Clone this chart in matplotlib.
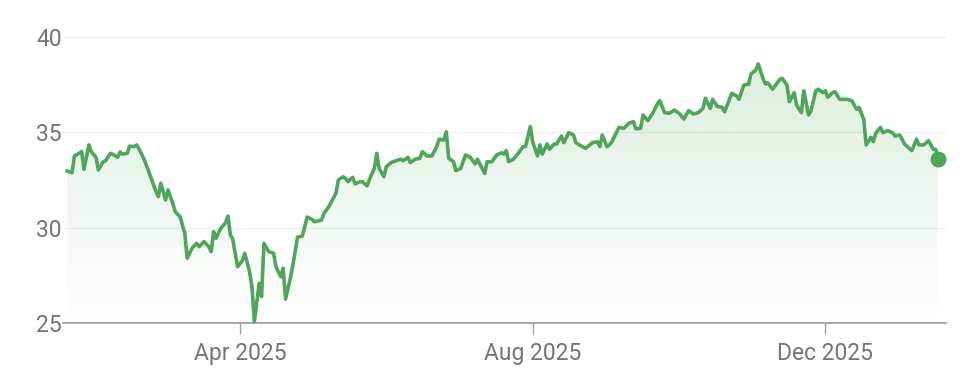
import matplotlib
matplotlib.use("Agg")
import matplotlib.pyplot as plt
import matplotlib.dates as mdates
import numpy as np
import pandas as pd

# price history
dates = [
    "2025-01-19", "2025-01-21", "2025-01-22", "2025-01-24", "2025-01-25", "2025-01-26",
    "2025-01-28", "2025-01-29", "2025-01-31", "2025-02-01", "2025-02-03", "2025-02-04",
    "2025-02-06", "2025-02-07", "2025-02-09", "2025-02-10", "2025-02-11", "2025-02-13",
    "2025-02-14", "2025-02-16", "2025-02-17", "2025-02-19", "2025-02-20", "2025-02-22",
    "2025-02-25", "2025-02-26", "2025-02-27", "2025-03-01", "2025-03-02", "2025-03-04",
    "2025-03-05", "2025-03-07", "2025-03-09", "2025-03-10", "2025-03-12", "2025-03-14",
    "2025-03-15", "2025-03-17", "2025-03-19", "2025-03-20", "2025-03-21", "2025-03-22",
    "2025-03-24", "2025-03-26", "2025-03-27", "2025-03-28", "2025-03-29", "2025-03-31",
    "2025-04-02", "2025-04-03", "2025-04-05", "2025-04-06", "2025-04-07", "2025-04-09",
    "2025-04-10", "2025-04-11", "2025-04-13", "2025-04-15", "2025-04-16", "2025-04-18",
    "2025-04-19", "2025-04-20", "2025-04-22", "2025-04-23", "2025-04-25", "2025-04-27",
    "2025-04-29", "2025-05-01", "2025-05-02", "2025-05-05", "2025-05-06", "2025-05-08",
    "2025-05-11", "2025-05-12", "2025-05-14", "2025-05-15", "2025-05-16", "2025-05-18",
    "2025-05-19", "2025-05-21", "2025-05-22", "2025-05-24", "2025-05-25", "2025-05-27",
    "2025-05-28", "2025-05-29", "2025-05-31", "2025-06-01", "2025-06-03", "2025-06-05",
    "2025-06-07", "2025-06-08", "2025-06-10", "2025-06-11", "2025-06-13", "2025-06-15",
    "2025-06-16", "2025-06-18", "2025-06-20", "2025-06-22", "2025-06-23", "2025-06-25",
    "2025-06-26", "2025-06-27", "2025-06-29", "2025-06-30", "2025-07-02", "2025-07-04",
    "2025-07-06", "2025-07-08", "2025-07-09", "2025-07-12", "2025-07-13", "2025-07-15",
    "2025-07-17", "2025-07-19", "2025-07-20", "2025-07-21", "2025-07-22", "2025-07-24",
    "2025-07-26", "2025-07-28", "2025-07-29", "2025-07-31", "2025-08-01", "2025-08-03",
    "2025-08-04", "2025-08-05", "2025-08-07", "2025-08-08", "2025-08-10", "2025-08-11",
    "2025-08-13", "2025-08-14", "2025-08-16", "2025-08-18", "2025-08-19", "2025-08-21",
    "2025-08-23", "2025-08-26", "2025-08-28", "2025-08-29", "2025-08-30", "2025-09-01",
    "2025-09-02", "2025-09-03", "2025-09-06", "2025-09-08", "2025-09-10", "2025-09-12",
    "2025-09-13", "2025-09-15", "2025-09-16", "2025-09-18", "2025-09-20", "2025-09-22",
    "2025-09-23", "2025-09-25", "2025-09-27", "2025-09-29", "2025-10-01", "2025-10-03",
    "2025-10-05", "2025-10-07", "2025-10-09", "2025-10-11", "2025-10-12", "2025-10-14",
    "2025-10-15", "2025-10-17", "2025-10-19", "2025-10-20", "2025-10-23", "2025-10-25",
    "2025-10-26", "2025-10-28", "2025-10-30", "2025-10-31", "2025-11-02", "2025-11-03",
    "2025-11-05", "2025-11-06", "2025-11-07", "2025-11-09", "2025-11-12", "2025-11-13",
    "2025-11-15", "2025-11-16", "2025-11-18", "2025-11-19", "2025-11-21", "2025-11-22",
    "2025-11-24", "2025-11-25", "2025-11-27", "2025-11-28", "2025-11-30", "2025-12-01",
    "2025-12-02", "2025-12-04", "2025-12-05", "2025-12-07", "2025-12-10", "2025-12-12",
    "2025-12-14", "2025-12-15", "2025-12-17", "2025-12-18", "2025-12-20", "2025-12-21",
    "2025-12-22", "2025-12-24", "2025-12-25", "2025-12-27", "2025-12-29", "2025-12-30",
    "2026-01-01", "2026-01-03", "2026-01-06", "2026-01-08", "2026-01-09", "2026-01-11",
    "2026-01-13", "2026-01-15", "2026-01-16", "2026-01-17",
]
prices = [
    32.97, 32.88, 33.76, 33.90, 33.99, 33.06,
    34.34, 33.99, 33.69, 33.03, 33.46, 33.51,
    33.90, 33.85, 33.69, 33.97, 33.86, 33.90,
    34.28, 34.25, 34.34, 33.86, 33.59, 32.94,
    31.89, 31.63, 32.33, 31.45, 31.98, 31.28,
    30.84, 30.58, 29.71, 28.40, 28.92, 29.18,
    29.00, 29.27, 29.00, 28.74, 29.79, 29.44,
    29.97, 30.26, 30.61, 29.62, 29.39, 27.95,
    28.27, 28.66, 27.69, 26.91, 25.07, 27.08,
    26.38, 29.18, 28.74, 28.66, 27.95, 27.43,
    27.87, 26.25, 27.35, 27.99, 29.50, 29.56,
    30.55, 30.44, 30.31, 30.40, 30.75, 31.10,
    31.80, 32.50, 32.67, 32.59, 32.41, 32.64,
    32.29, 32.41, 32.41, 32.19, 32.54, 33.11,
    33.90, 33.11, 32.67, 33.20, 33.41, 33.51,
    33.59, 33.51, 33.69, 33.41, 33.59, 33.64,
    33.99, 33.76, 33.76, 34.25, 34.64, 34.60,
    35.03, 33.64, 33.46, 32.99, 33.11, 33.81,
    33.69, 33.34, 33.59, 32.85, 33.46, 33.46,
    33.81, 33.93, 33.86, 34.04, 33.46, 33.59,
    33.90, 34.25, 34.25, 35.30, 34.51, 33.76,
    34.34, 33.86, 34.39, 34.11, 34.39, 34.39,
    34.81, 34.46, 34.98, 34.86, 34.46, 34.30,
    34.16, 34.46, 34.51, 34.25, 34.86, 34.25,
    34.34, 34.51, 35.26, 35.21, 35.47, 35.56,
    35.18, 35.21, 35.91, 35.61, 36.00, 36.49,
    36.66, 36.03, 36.00, 36.17, 36.00, 35.70,
    36.14, 35.96, 36.03, 36.26, 36.79, 36.26,
    36.73, 36.35, 36.31, 36.08, 37.05, 36.91,
    36.73, 37.48, 37.52, 38.06, 38.27, 38.58,
    37.83, 37.54, 37.60, 37.26, 37.78, 37.83,
    37.48, 36.61, 37.08, 36.43, 36.03, 37.18,
    35.91, 36.12, 37.18, 37.26, 37.08, 37.18,
    36.84, 37.08, 37.13, 36.73, 36.73, 36.66,
    36.21, 36.31, 35.68, 34.34, 34.74, 34.51,
    34.95, 35.26, 34.98, 35.09, 34.98, 34.81,
    34.86, 34.39, 34.04, 34.64, 34.34, 34.34,
    34.56, 34.11, 34.11, 33.59,
]

y_ticks = [25, 30, 35, 40]
tick_dates = ["2025-04-01", "2025-08-01", "2025-12-01"]
tick_labels = ["Apr 2025", "Aug 2025", "Dec 2025"]

GREEN = "#4fa65a"
GREY_TEXT = "#70757a"
AXIS_GREY = "#9aa0a6"

plt.rcParams["font.family"] = ["Roboto", "DejaVu Sans"]

x = mdates.date2num(pd.to_datetime(dates))

fig = plt.figure(figsize=(9.68, 3.76), dpi=100)
ax = fig.add_axes([0.0651, 0.141, 0.912, 0.7606])

x_left = mdates.date2num(pd.Timestamp("2025-01-17 06:00"))
x_right = mdates.date2num(pd.Timestamp("2026-01-20 05:00"))
ax.set_xlim(x_left, x_right)
ax.set_ylim(25, 40)

for side in ["top", "right", "left"]:
    ax.spines[side].set_visible(False)
ax.spines["bottom"].set_color(AXIS_GREY)
ax.spines["bottom"].set_linewidth(1.3)

ax.set_yticks(y_ticks)
ax.grid(axis="y", color="#efefef", linewidth=1)
ax.set_axisbelow(True)

# gradient area under the line
fill = ax.fill_between(x, prices, 25, facecolor="none", linewidth=0)
alpha = np.linspace(0.22, 0.0, 256)
rgba = np.zeros((256, 1, 4))
rgba[:, 0, :3] = matplotlib.colors.to_rgb(GREEN)
rgba[:, 0, 3] = alpha
im = ax.imshow(rgba, extent=[x[0], x[-1], 25, 40], aspect="auto",
               origin="upper", zorder=1, interpolation="bilinear")
im.set_clip_path(fill.get_paths()[0], transform=ax.transData)

ax.plot(x, prices, color=GREEN, linewidth=2.6, solid_joinstyle="round", zorder=3)
ax.plot([x[-1]], [prices[-1]], "o", color=GREEN, markersize=10.5, zorder=4, clip_on=False)

ax.set_xticks(mdates.date2num(pd.to_datetime(tick_dates)))
ax.set_xticklabels(tick_labels)
ax.tick_params(axis="x", length=8, width=1, color=AXIS_GREY, pad=6,
               labelsize=16.5, labelcolor=GREY_TEXT)
ax.tick_params(axis="y", length=0, pad=1, labelsize=16.5, labelcolor=GREY_TEXT)

fig.savefig("out.png", dpi=100)
